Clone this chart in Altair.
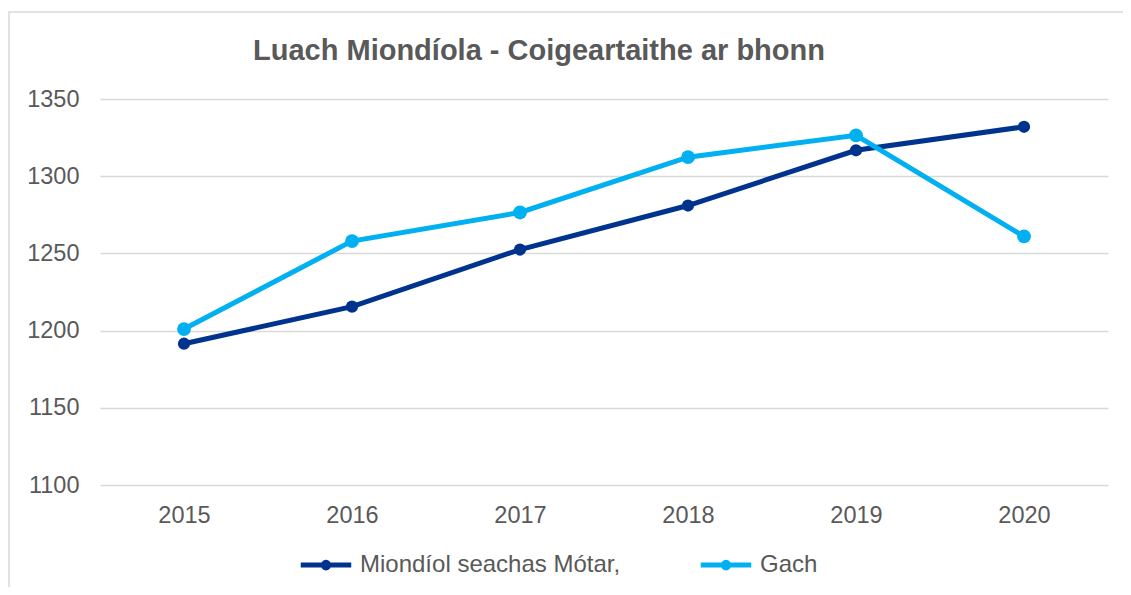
import altair as alt
import pandas as pd

years = ["2015", "2016", "2017", "2018", "2019", "2020"]
series_names = ["Miondíol seachas Mótar,", "Gach"]
miondiol = [1191.5, 1215.5, 1252.5, 1281.0, 1316.8, 1332.0]
gach = [1201.0, 1258.0, 1276.5, 1312.3, 1326.5, 1261.0]
colors = ["#00338D", "#00B0F0"]
y_ticks = [1100, 1150, 1200, 1250, 1300, 1350]
title_text = "Luach Miondíola - Coigeartaithe ar bhonn"

rows = []
for yr, a, b in zip(years, miondiol, gach):
    rows.append({"year": yr, "series": series_names[0], "value": a})
    rows.append({"year": yr, "series": series_names[1], "value": b})
df = pd.DataFrame(rows)

FONT = "Liberation Sans"
GREY = "#595959"
FS = 23.5
sym = "M-1,0L1,0M0.11,0A0.11,0.11,0,1,1,-0.11,0A0.11,0.11,0,1,1,0.11,0Z"

color_scale = alt.Scale(domain=series_names, range=colors)

legend = alt.Legend(
    title=None,
    orient="none",
    legendX=198,
    legendY=438,
    direction="horizontal",
    columnPadding=69,
    symbolType=sym,
    symbolSize=2550,
    symbolStrokeWidth=5,
    labelFontSize=24,
    labelFont=FONT,
    labelColor=GREY,
    labelOffset=6,
    labelLimit=500,
)

x = alt.X(
    "year:O",
    sort=years,
    scale=alt.Scale(padding=0.5),
    axis=alt.Axis(
        title=None,
        labelAngle=0,
        ticks=False,
        domain=False,
        grid=False,
        labelFontSize=FS,
        labelFont=FONT,
        labelColor=GREY,
        labelPadding=18,
    ),
)
y = alt.Y(
    "value:Q",
    scale=alt.Scale(domain=[1100, 1350], zero=False, nice=False),
    axis=alt.Axis(
        title=None,
        values=y_ticks,
        format="d",
        ticks=False,
        domain=False,
        grid=True,
        gridColor="#D9D9D9",
        gridWidth=1.5,
        labelFontSize=FS,
        labelFont=FONT,
        labelColor=GREY,
        labelPadding=21,
    ),
)

frame = alt.Chart(pd.DataFrame({"f": [0]})).mark_rect(
    fillOpacity=0, stroke="#D9D9D9", strokeWidth=1.5
).encode(
    x=alt.value(-91), x2=alt.value(1040), y=alt.value(-87), y2=alt.value(520)
)

lines = alt.Chart(df).mark_line(strokeWidth=5).encode(
    x=x, y=y,
    color=alt.Color("series:N", scale=color_scale, sort=series_names, legend=legend),
)
points = alt.Chart(df).mark_point(filled=True, opacity=1).encode(
    x=x, y=y,
    color=alt.Color("series:N", scale=color_scale, sort=series_names, legend=None),
    size=alt.Size("series:N", scale=alt.Scale(domain=series_names, range=[150, 190]), legend=None),
)

chart = alt.layer(frame, lines, points).resolve_legend(
    color="independent", size="independent"
).properties(
    width=1008,
    height=386,
    padding={"left": 92, "top": 91, "right": 15, "bottom": 102},
    autosize=alt.AutoSizeParams(type="none"),
    title=alt.TitleParams(
        text=title_text,
        anchor="middle",
        frame="group",
        dx=-65,
        offset=-55,
        font=FONT,
        fontSize=29,
        fontWeight="bold",
        color=GREY,
    ),
).configure_view(stroke=None)

chart.save("out.html", embed_options={"renderer": "svg", "actions": False})
